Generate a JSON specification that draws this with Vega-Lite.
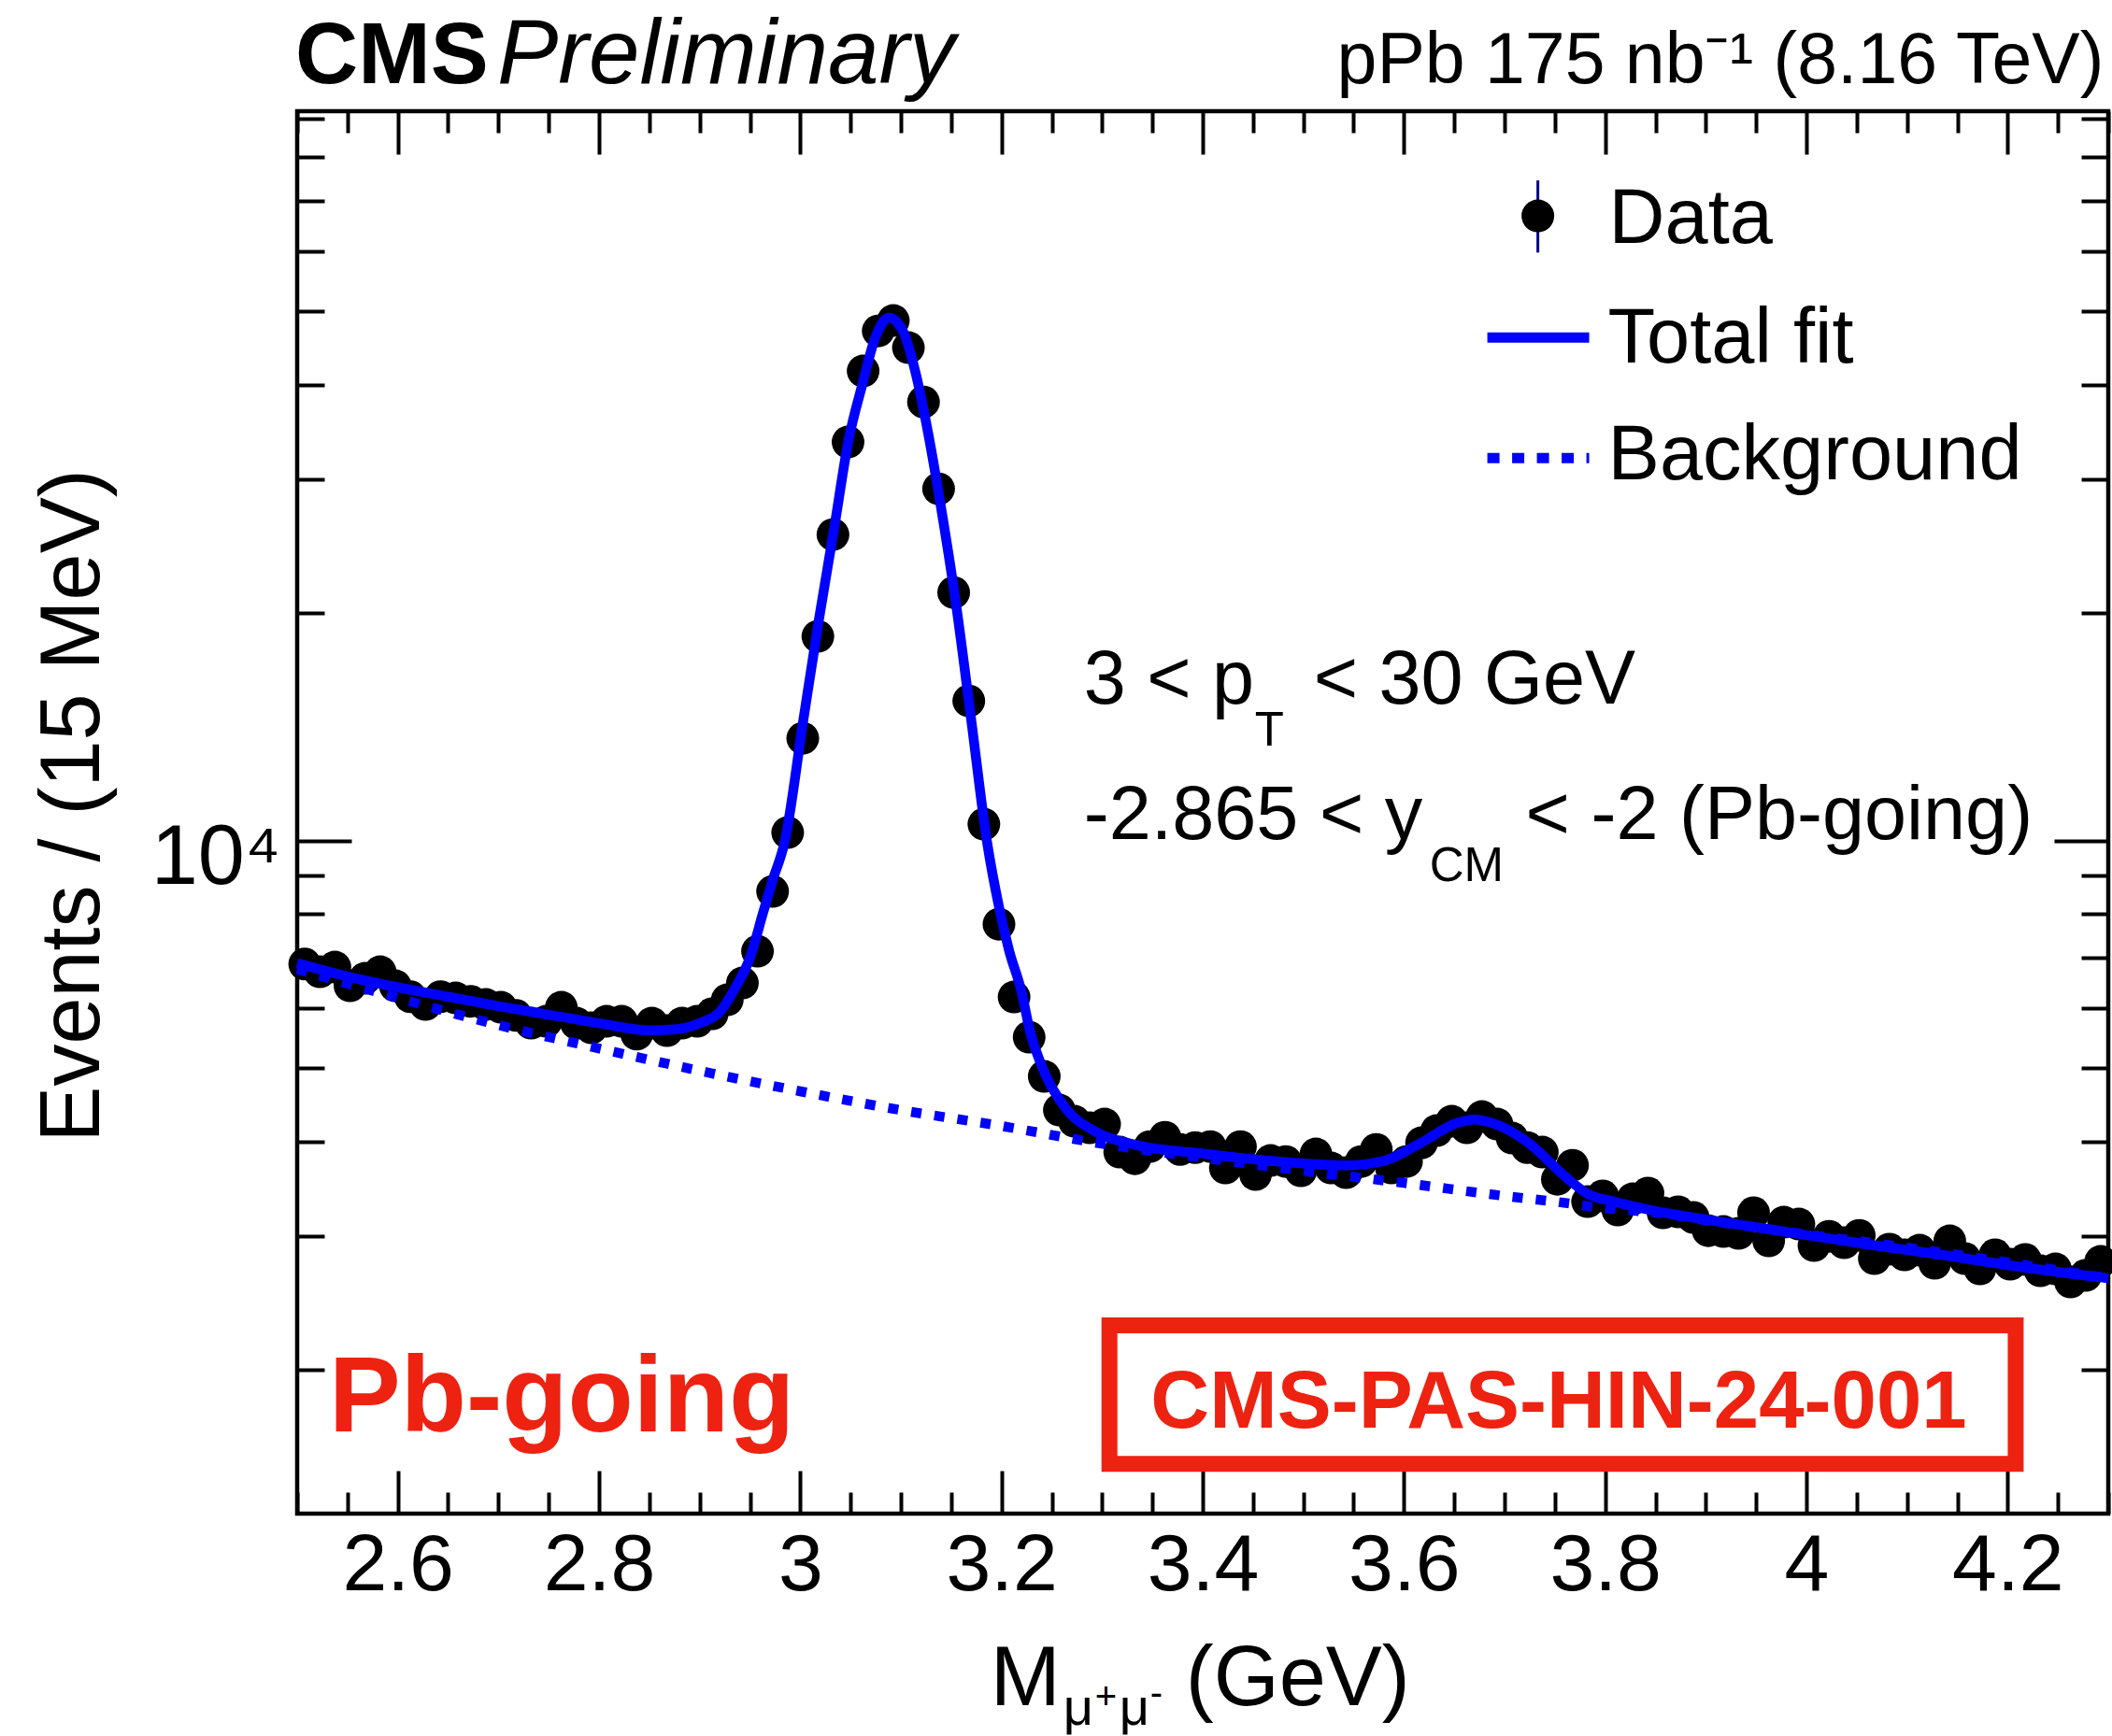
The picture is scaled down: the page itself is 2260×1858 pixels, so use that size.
{
  "$schema": "https://vega.github.io/schema/vega-lite/v6.json",
  "width": 1938,
  "height": 1501,
  "autosize": {"type": "none"},
  "padding": {"left": 318, "top": 119, "right": 4, "bottom": 238},
  "background": "white",
  "config": {
    "view": {"stroke": "black", "strokeWidth": 4.5},
    "axis": {"domain": false, "grid": false, "tickColor": "black", "tickWidth": 4, "labelFont": "Liberation Sans", "labelColor": "black", "titleFont": "Liberation Sans", "titleColor": "black"},
    "text": {"font": "Liberation Sans", "color": "black", "baseline": "alphabetic"}
  },
  "datasets": {
    "pts": [
      {"m": 2.5075, "n": 6868}, {"m": 2.5225, "n": 6708}, {"m": 2.5375, "n": 6804}, {"m": 2.5525, "n": 6428}, {"m": 2.5675, "n": 6576},
      {"m": 2.5825, "n": 6708}, {"m": 2.5975, "n": 6428}, {"m": 2.6125, "n": 6218}, {"m": 2.6275, "n": 6073}, {"m": 2.6425, "n": 6218},
      {"m": 2.6575, "n": 6195}, {"m": 2.6725, "n": 6130}, {"m": 2.6875, "n": 6073}, {"m": 2.7025, "n": 6021}, {"m": 2.7175, "n": 5874},
      {"m": 2.7325, "n": 5737}, {"m": 2.7475, "n": 5770}, {"m": 2.7625, "n": 6021}, {"m": 2.7775, "n": 5737}, {"m": 2.7925, "n": 5656},
      {"m": 2.8075, "n": 5770}, {"m": 2.8225, "n": 5770}, {"m": 2.8375, "n": 5549}, {"m": 2.8525, "n": 5737}, {"m": 2.8675, "n": 5608},
      {"m": 2.8825, "n": 5737}, {"m": 2.8975, "n": 5770}, {"m": 2.9125, "n": 5903}, {"m": 2.9275, "n": 6160}, {"m": 2.9425, "n": 6483},
      {"m": 2.9575, "n": 7140}, {"m": 2.9725, "n": 8566}, {"m": 2.9875, "n": 10245}, {"m": 3.0025, "n": 13651}, {"m": 3.0175, "n": 18611},
      {"m": 3.0325, "n": 25370}, {"m": 3.0475, "n": 33620}, {"m": 3.0625, "n": 41730}, {"m": 3.0775, "n": 47150}, {"m": 3.0925, "n": 48650},
      {"m": 3.1075, "n": 44800}, {"m": 3.1225, "n": 37980}, {"m": 3.1375, "n": 29160}, {"m": 3.1525, "n": 21270}, {"m": 3.1675, "n": 15295},
      {"m": 3.1825, "n": 10510}, {"m": 3.1975, "n": 7753}, {"m": 3.2125, "n": 6212}, {"m": 3.2275, "n": 5497}, {"m": 3.2425, "n": 4879},
      {"m": 3.2575, "n": 4404}, {"m": 3.2725, "n": 4256}, {"m": 3.2875, "n": 4172}, {"m": 3.3025, "n": 4220}, {"m": 3.3175, "n": 3875},
      {"m": 3.3325, "n": 3798}, {"m": 3.3475, "n": 3941}, {"m": 3.3625, "n": 4055}, {"m": 3.3775, "n": 3907}, {"m": 3.3925, "n": 3929},
      {"m": 3.4075, "n": 3941}, {"m": 3.4225, "n": 3692}, {"m": 3.4375, "n": 3941}, {"m": 3.4525, "n": 3620}, {"m": 3.4675, "n": 3777},
      {"m": 3.4825, "n": 3766}, {"m": 3.4975, "n": 3661}, {"m": 3.5125, "n": 3853}, {"m": 3.5275, "n": 3692}, {"m": 3.5425, "n": 3640},
      {"m": 3.5575, "n": 3766}, {"m": 3.5725, "n": 3907}, {"m": 3.5875, "n": 3692}, {"m": 3.6025, "n": 3766}, {"m": 3.6175, "n": 3987},
      {"m": 3.6325, "n": 4137}, {"m": 3.6475, "n": 4256}, {"m": 3.6625, "n": 4172}, {"m": 3.6775, "n": 4317}, {"m": 3.6925, "n": 4220},
      {"m": 3.7075, "n": 4044}, {"m": 3.7225, "n": 3929}, {"m": 3.7375, "n": 3875}, {"m": 3.7525, "n": 3568}, {"m": 3.7675, "n": 3723},
      {"m": 3.7825, "n": 3333}, {"m": 3.7975, "n": 3391}, {"m": 3.8125, "n": 3249}, {"m": 3.8275, "n": 3362}, {"m": 3.8425, "n": 3420},
      {"m": 3.8575, "n": 3222}, {"m": 3.8725, "n": 3231}, {"m": 3.8875, "n": 3177}, {"m": 3.9025, "n": 3051}, {"m": 3.9175, "n": 3043},
      {"m": 3.9325, "n": 3026}, {"m": 3.9475, "n": 3222}, {"m": 3.9625, "n": 2958}, {"m": 3.9775, "n": 3131}, {"m": 3.9925, "n": 3113},
      {"m": 4.0075, "n": 2916}, {"m": 4.0225, "n": 3000}, {"m": 4.0375, "n": 2941}, {"m": 4.0525, "n": 3008}, {"m": 4.0675, "n": 2803},
      {"m": 4.0825, "n": 2884}, {"m": 4.0975, "n": 2835}, {"m": 4.1125, "n": 2875}, {"m": 4.1275, "n": 2763}, {"m": 4.1425, "n": 2958},
      {"m": 4.1575, "n": 2803}, {"m": 4.1725, "n": 2716}, {"m": 4.1875, "n": 2835}, {"m": 4.2025, "n": 2755}, {"m": 4.2175, "n": 2795},
      {"m": 4.2325, "n": 2701}, {"m": 4.2475, "n": 2716}, {"m": 4.2625, "n": 2610}, {"m": 4.2775, "n": 2663}, {"m": 4.2925, "n": 2779}
    ],
    "fit": [
      {"m": 2.5, "n": 6886}, {"m": 2.55, "n": 6613}, {"m": 2.6, "n": 6397}, {"m": 2.65, "n": 6218}, {"m": 2.7, "n": 6043},
      {"m": 2.75, "n": 5886}, {"m": 2.8, "n": 5737}, {"m": 2.85, "n": 5613}, {"m": 2.875, "n": 5629}, {"m": 2.9, "n": 5737},
      {"m": 2.92, "n": 5936}, {"m": 2.935, "n": 6374}, {"m": 2.95, "n": 6999}, {"m": 2.963, "n": 8024}, {"m": 2.9723, "n": 8838},
      {"m": 2.9847, "n": 9986}, {"m": 3.003, "n": 14410}, {"m": 3.0184, "n": 19530}, {"m": 3.0339, "n": 25960}, {"m": 3.0478, "n": 33710},
      {"m": 3.0618, "n": 40100}, {"m": 3.074, "n": 45960}, {"m": 3.088, "n": 49070}, {"m": 3.102, "n": 47150}, {"m": 3.114, "n": 41840},
      {"m": 3.1267, "n": 34780}, {"m": 3.139, "n": 28030}, {"m": 3.1545, "n": 20680}, {"m": 3.17, "n": 14410}, {"m": 3.1855, "n": 9986},
      {"m": 3.198, "n": 8116}, {"m": 3.2075, "n": 7160}, {"m": 3.2196, "n": 6338}, {"m": 3.228, "n": 5623}, {"m": 3.2437, "n": 4907},
      {"m": 3.2617, "n": 4467}, {"m": 3.2971, "n": 4102}, {"m": 3.3327, "n": 3964}, {"m": 3.4038, "n": 3853}, {"m": 3.4749, "n": 3766},
      {"m": 3.5459, "n": 3723}, {"m": 3.5672, "n": 3745}, {"m": 3.5814, "n": 3777}, {"m": 3.617, "n": 3987}, {"m": 3.6525, "n": 4232},
      {"m": 3.6703, "n": 4280}, {"m": 3.688, "n": 4232}, {"m": 3.7236, "n": 3987}, {"m": 3.7591, "n": 3609}, {"m": 3.7832, "n": 3410},
      {"m": 3.809, "n": 3333}, {"m": 3.8451, "n": 3249}, {"m": 3.9174, "n": 3131}, {"m": 3.9896, "n": 3026}, {"m": 4.0617, "n": 2925},
      {"m": 4.134, "n": 2835}, {"m": 4.2062, "n": 2740}, {"m": 4.3, "n": 2640}
    ],
    "bkg": [
      {"m": 2.5, "n": 6765}, {"m": 2.6, "n": 6195}, {"m": 2.7, "n": 5704}, {"m": 2.8, "n": 5313}, {"m": 2.9, "n": 4963},
      {"m": 3.0, "n": 4663}, {"m": 3.1, "n": 4404}, {"m": 3.2, "n": 4196}, {"m": 3.3, "n": 3975}, {"m": 3.4, "n": 3809},
      {"m": 3.5, "n": 3661}, {"m": 3.6, "n": 3528}, {"m": 3.7, "n": 3391}, {"m": 3.75, "n": 3333}, {"m": 3.8, "n": 3268},
      {"m": 3.85, "n": 3222}, {"m": 3.9, "n": 3149}, {"m": 4.0, "n": 3017}, {"m": 4.1, "n": 2899}, {"m": 4.2, "n": 2771},
      {"m": 4.3, "n": 2640}
    ]
  },
  "resolve": {"axis": {"x": "independent", "y": "independent"}},
  "layer": [
    {
      "data": {"name": "pts"},
      "mark": {"type": "point", "shape": "circle", "filled": true, "color": "black", "size": 1225, "opacity": 1, "strokeWidth": 0},
      "encoding": {
        "x": {"field": "m", "type": "quantitative",
          "scale": {"domain": [2.5, 4.3], "nice": false, "zero": false},
          "axis": {"orient": "bottom", "title": null,
            "values": [2.5, 2.55, 2.6, 2.65, 2.7, 2.75, 2.8, 2.85, 2.9, 2.95, 3.0, 3.05, 3.1, 3.15, 3.2, 3.25, 3.3, 3.35, 3.4, 3.45, 3.5, 3.55, 3.6, 3.65, 3.7, 3.75, 3.8, 3.85, 3.9, 3.95, 4.0, 4.05, 4.1, 4.15, 4.2, 4.25, 4.3],
            "tickSize": {"condition": {"test": "abs(datum.value*5 - round(datum.value*5)) < 0.001", "value": -46}, "value": -23},
            "labelExpr": "abs(datum.value*5 - round(datum.value*5)) < 0.001 ? format(datum.value, '.1~f') : ''",
            "labelFontSize": 86, "labelBaseline": "alphabetic", "labelPadding": 127, "labelFlush": false, "labelOverlap": false, "labelBound": false}
        },
        "y": {"field": "n", "type": "quantitative",
          "scale": {"type": "log", "domain": [1290, 92000], "nice": false},
          "axis": {"orient": "left",
            "values": [2000, 3000, 4000, 5000, 6000, 7000, 8000, 9000, 10000, 20000, 30000, 40000, 50000, 60000, 70000, 80000, 90000],
            "tickSize": {"condition": {"test": "datum.value == 10000", "value": -58}, "value": -29},
            "labelExpr": "datum.value == 10000 ? '10⁴' : ''",
            "labelFontSize": 90, "labelPadding": 76, "labelBaseline": "alphabetic", "labelOffset": 46, "labelOverlap": false, "labelBound": false, "labelFlush": false,
            "title": "Events / (15 MeV)", "titleFontSize": 90, "titleFontWeight": "normal", "titleAngle": 270,
            "titleAlign": "center", "titleBaseline": "alphabetic", "titleX": -213, "titleY": 743}
        }
      }
    },
    {
      "data": {"name": "bkg"},
      "mark": {"type": "line", "color": "#0000ff", "strokeWidth": 10.5, "strokeDash": [11, 14], "interpolate": "monotone"},
      "encoding": {
        "x": {"field": "m", "type": "quantitative", "scale": {"domain": [2.5, 4.3], "nice": false, "zero": false},
          "axis": {"orient": "top", "title": null, "labels": false,
            "values": [2.5, 2.55, 2.6, 2.65, 2.7, 2.75, 2.8, 2.85, 2.9, 2.95, 3.0, 3.05, 3.1, 3.15, 3.2, 3.25, 3.3, 3.35, 3.4, 3.45, 3.5, 3.55, 3.6, 3.65, 3.7, 3.75, 3.8, 3.85, 3.9, 3.95, 4.0, 4.05, 4.1, 4.15, 4.2, 4.25, 4.3],
            "tickSize": {"condition": {"test": "abs(datum.value*5 - round(datum.value*5)) < 0.001", "value": -46}, "value": -23}}},
        "y": {"field": "n", "type": "quantitative", "scale": {"type": "log", "domain": [1290, 92000], "nice": false},
          "axis": {"orient": "right", "title": null, "labels": false,
            "values": [2000, 3000, 4000, 5000, 6000, 7000, 8000, 9000, 10000, 20000, 30000, 40000, 50000, 60000, 70000, 80000, 90000],
            "tickSize": {"condition": {"test": "datum.value == 10000", "value": -58}, "value": -29}}}
      }
    },
    {
      "data": {"name": "fit"},
      "mark": {"type": "line", "color": "#0000ff", "strokeWidth": 10.5, "interpolate": "monotone"},
      "encoding": {
        "x": {"field": "m", "type": "quantitative", "scale": {"domain": [2.5, 4.3], "nice": false, "zero": false}, "axis": null},
        "y": {"field": "n", "type": "quantitative", "scale": {"type": "log", "domain": [1290, 92000], "nice": false}, "axis": null}
      }
    },
    {
      "data": {"values": [{"m": 3.7331, "lo": 59840, "hi": 74520}]},
      "mark": {"type": "rule", "color": "#000088", "strokeWidth": 3},
      "encoding": {
        "x": {"field": "m", "type": "quantitative", "scale": {"domain": [2.5, 4.3], "nice": false, "zero": false}, "axis": null},
        "y": {"field": "lo", "type": "quantitative", "scale": {"type": "log", "domain": [1290, 92000], "nice": false}, "axis": null},
        "y2": {"field": "hi"}
      }
    },
    {
      "data": {"values": [{"m": 3.7331, "n": 66900}]},
      "mark": {"type": "point", "shape": "circle", "filled": true, "color": "black", "size": 1225, "opacity": 1, "strokeWidth": 0},
      "encoding": {
        "x": {"field": "m", "type": "quantitative", "scale": {"domain": [2.5, 4.3], "nice": false, "zero": false}, "axis": null},
        "y": {"field": "n", "type": "quantitative", "scale": {"type": "log", "domain": [1290, 92000], "nice": false}, "axis": null}
      }
    },
    {
      "data": {"values": [{"m": 3.6829, "n": 46220}, {"m": 3.7841, "n": 46220}]},
      "mark": {"type": "line", "color": "#0000ff", "strokeWidth": 11},
      "encoding": {
        "x": {"field": "m", "type": "quantitative", "scale": {"domain": [2.5, 4.3], "nice": false, "zero": false}, "axis": null},
        "y": {"field": "n", "type": "quantitative", "scale": {"type": "log", "domain": [1290, 92000], "nice": false}, "axis": null}
      }
    },
    {
      "data": {"values": [{"m": 3.6829, "n": 32030}, {"m": 3.7841, "n": 32030}]},
      "mark": {"type": "line", "color": "#0000ff", "strokeWidth": 11, "strokeDash": [13, 13.5]},
      "encoding": {
        "x": {"field": "m", "type": "quantitative", "scale": {"domain": [2.5, 4.3], "nice": false, "zero": false}, "axis": null},
        "y": {"field": "n", "type": "quantitative", "scale": {"type": "log", "domain": [1290, 92000], "nice": false}, "axis": null}
      }
    },
    {
      "data": {"values": [
        {"m": 3.2818, "n": 15166, "t": "3 < p"},
        {"m": 3.5102, "n": 15166, "t": "< 30 GeV"},
        {"m": 3.2818, "n": 10034, "t": "-2.865 < y"},
        {"m": 3.7210, "n": 10034, "t": "< -2 (Pb-going)"}
      ]},
      "mark": {"type": "text", "align": "left", "fontSize": 81},
      "encoding": {
        "x": {"field": "m", "type": "quantitative", "scale": {"domain": [2.5, 4.3], "nice": false, "zero": false}, "axis": null},
        "y": {"field": "n", "type": "quantitative", "scale": {"type": "log", "domain": [1290, 92000], "nice": false}, "axis": null},
        "text": {"field": "t"}
      }
    },
    {
      "data": {"values": [
        {"m": 3.8036, "n": 61610, "t": "Data"},
        {"m": 3.8027, "n": 42800, "t": "Total fit"},
        {"m": 3.8027, "n": 30010, "t": "Background"}
      ]},
      "mark": {"type": "text", "align": "left", "fontSize": 83},
      "encoding": {
        "x": {"field": "m", "type": "quantitative", "scale": {"domain": [2.5, 4.3], "nice": false, "zero": false}, "axis": null},
        "y": {"field": "n", "type": "quantitative", "scale": {"type": "log", "domain": [1290, 92000], "nice": false}, "axis": null},
        "text": {"field": "t"}
      }
    },
    {
      "data": {"values": [
        {"m": 3.4517, "n": 13348, "t": "T"},
        {"m": 3.6254, "n": 8829, "t": "CM"}
      ]},
      "mark": {"type": "text", "align": "left", "fontSize": 51},
      "encoding": {
        "x": {"field": "m", "type": "quantitative", "scale": {"domain": [2.5, 4.3], "nice": false, "zero": false}, "axis": null},
        "y": {"field": "n", "type": "quantitative", "scale": {"type": "log", "domain": [1290, 92000], "nice": false}, "axis": null},
        "text": {"field": "t"}
      }
    },
    {
      "data": {"values": [{"m": 4.2957, "n": 100140, "t": "pPb 175 nb⁻¹ (8.16 TeV)"}]},
      "mark": {"type": "text", "align": "right", "fontSize": 77},
      "encoding": {
        "x": {"field": "m", "type": "quantitative", "scale": {"domain": [2.5, 4.3], "nice": false, "zero": false}, "axis": null},
        "y": {"field": "n", "type": "quantitative", "scale": {"type": "log", "domain": [1290, 92000], "nice": false}, "axis": null},
        "text": {"field": "t"}
      }
    },
    {
      "data": {"values": [{"m": 2.49814, "n": 100140, "t": "CMS"}]},
      "mark": {"type": "text", "align": "left", "fontSize": 93, "fontWeight": "bold"},
      "encoding": {
        "x": {"field": "m", "type": "quantitative", "scale": {"domain": [2.5, 4.3], "nice": false, "zero": false}, "axis": null},
        "y": {"field": "n", "type": "quantitative", "scale": {"type": "log", "domain": [1290, 92000], "nice": false}, "axis": null},
        "text": {"field": "t"}
      }
    },
    {
      "data": {"values": [{"m": 2.6987, "n": 100140, "t": "Preliminary"}]},
      "mark": {"type": "text", "align": "left", "fontSize": 98, "fontStyle": "italic"},
      "encoding": {
        "x": {"field": "m", "type": "quantitative", "scale": {"domain": [2.5, 4.3], "nice": false, "zero": false}, "axis": null},
        "y": {"field": "n", "type": "quantitative", "scale": {"type": "log", "domain": [1290, 92000], "nice": false}, "axis": null},
        "text": {"field": "t"}
      }
    },
    {
      "data": {"values": [{"m": 2.5316, "n": 1656, "t": "Pb-going"}]},
      "mark": {"type": "text", "align": "left", "fontSize": 115, "fontWeight": "bold", "color": "#ee2211"},
      "encoding": {
        "x": {"field": "m", "type": "quantitative", "scale": {"domain": [2.5, 4.3], "nice": false, "zero": false}, "axis": null},
        "y": {"field": "n", "type": "quantitative", "scale": {"type": "log", "domain": [1290, 92000], "nice": false}, "axis": null},
        "text": {"field": "t"}
      }
    },
    {
      "data": {"values": [{"m": 3.3073, "m2": 4.208, "lo": 1501, "hi": 2287}]},
      "mark": {"type": "rect", "fill": "transparent", "stroke": "#ee2211", "strokeWidth": 17},
      "encoding": {
        "x": {"field": "m", "type": "quantitative", "scale": {"domain": [2.5, 4.3], "nice": false, "zero": false}, "axis": null},
        "x2": {"field": "m2"},
        "y": {"field": "lo", "type": "quantitative", "scale": {"type": "log", "domain": [1290, 92000], "nice": false}, "axis": null},
        "y2": {"field": "hi"}
      }
    },
    {
      "data": {"values": [{"m": 3.7539, "n": 1675, "t": "CMS-PAS-HIN-24-001"}]},
      "mark": {"type": "text", "align": "center", "fontSize": 87, "fontWeight": "bold", "color": "#ee2211"},
      "encoding": {
        "x": {"field": "m", "type": "quantitative", "scale": {"domain": [2.5, 4.3], "nice": false, "zero": false}, "axis": null},
        "y": {"field": "n", "type": "quantitative", "scale": {"type": "log", "domain": [1290, 92000], "nice": false}, "axis": null},
        "text": {"field": "t"}
      }
    },
    {
      "data": {"values": [{"m": 3.1889, "n": 720, "t": "M"}, {"m": 3.3830, "n": 720, "t": "(GeV)"}]},
      "mark": {"type": "text", "align": "left", "fontSize": 90},
      "encoding": {
        "x": {"field": "m", "type": "quantitative", "scale": {"domain": [2.5, 4.3], "nice": false, "zero": false}, "axis": null},
        "y": {"field": "n", "type": "quantitative", "scale": {"type": "log", "domain": [1290, 92000], "nice": false}, "axis": null},
        "text": {"field": "t"}
      }
    },
    {
      "data": {"values": [{"m": 3.2614, "n": 678.5, "t": "μ"}, {"m": 3.3171, "n": 678.5, "t": "μ"}]},
      "mark": {"type": "text", "align": "left", "fontSize": 56},
      "encoding": {
        "x": {"field": "m", "type": "quantitative", "scale": {"domain": [2.5, 4.3], "nice": false, "zero": false}, "axis": null},
        "y": {"field": "n", "type": "quantitative", "scale": {"type": "log", "domain": [1290, 92000], "nice": false}, "axis": null},
        "text": {"field": "t"}
      }
    },
    {
      "data": {"values": [{"m": 3.2929, "n": 711.9, "t": "+"}, {"m": 3.3477, "n": 720, "t": "-"}]},
      "mark": {"type": "text", "align": "left", "fontSize": 40},
      "encoding": {
        "x": {"field": "m", "type": "quantitative", "scale": {"domain": [2.5, 4.3], "nice": false, "zero": false}, "axis": null},
        "y": {"field": "n", "type": "quantitative", "scale": {"type": "log", "domain": [1290, 92000], "nice": false}, "axis": null},
        "text": {"field": "t"}
      }
    }
  ]
}
